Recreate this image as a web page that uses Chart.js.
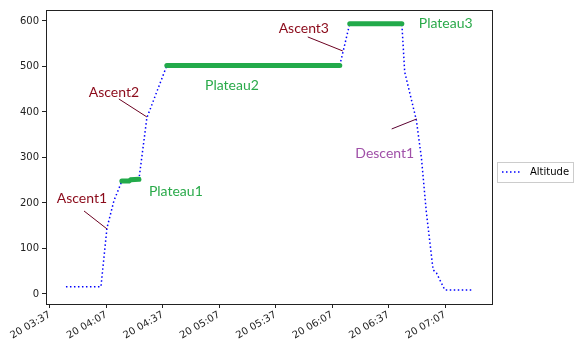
<!DOCTYPE html>
<html><head><meta charset="utf-8">
<script src="https://cdn.jsdelivr.net/npm/chart.js@4"></script>
<style>html,body{margin:0;padding:0;background:#fff}#w{width:579px;height:349px}</style>
</head><body><div id="w"><canvas id="c"></canvas></div>
<script>
// time in minutes since 00:00 on day 20
const altTimes = [225.5,244.1,247.3,251,255.2,259,260,264.3,268.5,279.1,371,376.3,404,405.5,411.7,414.4,417.0,420.6,422.4,426.8,440.9];
const altValues = [16,16,145,205,248,248,251,252,387,502,502,594,594,488,382,299,180,53,46,9,9];
const plateau1 = [[255.2,248],[259,248],[260,251],[264.3,252]];
const plateau2 = [[279.1,502],[371,502]];
const plateau3 = [[376.3,594],[404,594]];
const tickMinutes = [217,247,277,307,337,367,397,427];
const yTicks = [0,100,200,300,400,500,600];
const labels = [
  {text:'Ascent1', x:234.0, y:208.8, color:'#8b0a1a', line:[[235.1,182.4],[247.3,143]], lc:'#6b0020'},
  {text:'Ascent2', x:251.0, y:441.8, color:'#8b0a1a', line:[[253.6,428.6],[268.5,389]], lc:'#6b0020'},
  {text:'Ascent3', x:351.9, y:582.4, color:'#8b0a1a', line:[[354,564.8],[372.6,534]], lc:'#6b0020'},
  {text:'Descent1', x:394.9, y:307.7, color:'#a050a8', line:[[398.6,362.6],[411.9,384.6]], lc:'#5a0030'},
  {text:'Plateau1', x:283.9, y:224.2, color:'#2aaa4a'},
  {text:'Plateau2', x:313.7, y:457.1, color:'#2aaa4a'},
  {text:'Plateau3', x:427.3, y:593.4, color:'#2aaa4a'}
];
const toPts = a => a.map(p => ({x:p[0], y:p[1]}));
const fmt = m => { const h = Math.floor(m/60), mm = Math.round(m%60); return '20 ' + String(h).padStart(2,'0') + ':' + String(mm).padStart(2,'0'); };

const green = '#22aa4a';
const annot = {
  id:'annot',
  afterDatasetsDraw(chart){
    const {ctx, chartArea:a, scales:{x,y}} = chart;
    ctx.save();
    labels.forEach(l => {
      if (l.line){
        ctx.strokeStyle = l.lc; ctx.lineWidth = 1;
        ctx.beginPath();
        ctx.moveTo(x.getPixelForValue(l.line[0][0]), y.getPixelForValue(l.line[0][1]));
        ctx.lineTo(x.getPixelForValue(l.line[1][0]), y.getPixelForValue(l.line[1][1]));
        ctx.stroke();
      }
      ctx.fillStyle = l.color; ctx.font = '14px Lato';
      ctx.textAlign = 'center'; ctx.textBaseline = 'middle';
      ctx.fillText(l.text, x.getPixelForValue(l.x), y.getPixelForValue(l.y));
    });
    // frame
    ctx.strokeStyle = '#222'; ctx.lineWidth = 1;
    ctx.strokeRect(Math.round(a.left)+0.5, Math.round(a.top)+0.5, Math.round(a.right-a.left), Math.round(a.bottom-a.top));
    // legend
    const lx = 497.5, ly = 162.5, lw = 76, lh = 20;
    ctx.fillStyle = '#fff'; ctx.fillRect(lx, ly, lw, lh);
    ctx.strokeStyle = '#ccc'; ctx.strokeRect(lx, ly, lw, lh);
    ctx.strokeStyle = 'blue'; ctx.lineWidth = 1.5; ctx.setLineDash([1.5,2.5]);
    ctx.beginPath(); ctx.moveTo(502, 172); ctx.lineTo(521, 172); ctx.stroke();
    ctx.setLineDash([]);
    ctx.fillStyle = '#000'; ctx.font = '10px "DejaVu Sans"'; ctx.textAlign = 'left'; ctx.textBaseline = 'middle';
    ctx.fillText(chart.data.datasets[0].label, 530, 172.5);
    ctx.restore();
  }
};

new Chart(document.getElementById('c'), {
  type:'line',
  data:{datasets:[
    {label:'Altitude', data: altTimes.map((t,i)=>({x:t,y:altValues[i]})), borderColor:'blue', borderWidth:1.5, borderDash:[1.5,2.5], pointRadius:0, fill:false, tension:0, order:2},
    {label:'p1', data: toPts(plateau1), borderColor:green, borderWidth:5, borderCapStyle:'round', pointRadius:0, order:1},
    {label:'p2', data: toPts(plateau2), borderColor:green, borderWidth:5, borderCapStyle:'round', pointRadius:0, order:1},
    {label:'p3', data: toPts(plateau3), borderColor:green, borderWidth:5, borderCapStyle:'round', pointRadius:0, order:1}
  ]},
  options:{
    responsive:true, maintainAspectRatio:false, animation:false,
    layout:{padding:{left:0,right:87,top:10,bottom:0}},
    plugins:{legend:{display:false}, tooltip:{enabled:false}},
    scales:{
      x:{type:'linear', min:214.9, max:451.9,
        afterBuildTicks: s => { s.ticks = tickMinutes.map(v=>({value:v})); },
        afterFit: s => { s.height = 45; },
        grid:{display:true, drawOnChartArea:false, drawTicks:true, tickLength:4, color:'#222'},
        border:{display:true, color:'#222'},
        ticks:{callback:v=>fmt(v), minRotation:30, maxRotation:30, autoSkip:false, color:'#222', font:{family:'DejaVu Sans', size:10}, padding:1}
      },
      y:{type:'linear', min:-22, max:624,
        afterBuildTicks: s => { s.ticks = yTicks.map(v=>({value:v})); },
        afterFit: s => { s.width = 46; },
        grid:{display:true, drawOnChartArea:false, drawTicks:true, tickLength:4, color:'#222'},
        border:{display:true, color:'#222'},
        ticks:{color:'#222', font:{family:'DejaVu Sans', size:10}, padding:3}
      }
    }
  },
  plugins:[annot]
});
</script></body></html>
